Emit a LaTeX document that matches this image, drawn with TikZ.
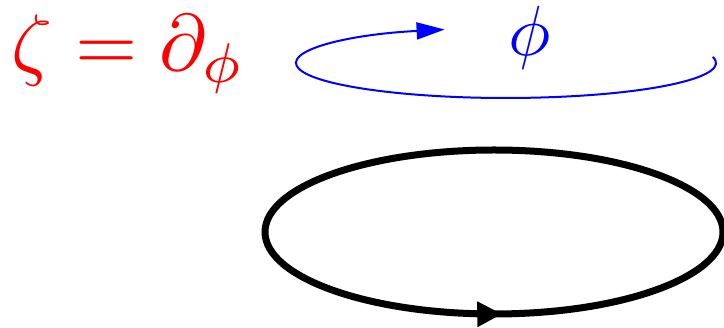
\documentclass[tikz,border=0pt]{standalone}
\usetikzlibrary{arrows.meta,decorations.markings}
\tikzset{
  formula/.style={inner sep=0pt, outer sep=0pt},
  orbit/.style={line width=7pt, black},
  blueorbit/.style={line width=2pt, blue}
}
\begin{document}
\begin{tikzpicture}[x=1pt,y=1pt]
\useasboundingbox (0,0) rectangle (724,328);
% red formula
\node[formula, red, scale=8, anchor=base west] (zeta) at (12,257)
  {$\zeta=\partial_\phi$};
% blue phi
\node[formula, blue, scale=7.1, anchor=base west] (phi) at (508,272) {$\phi$};
% blue open orbit with arrow
\draw[blueorbit, -{Triangle[length=28pt,width=17pt]}]
  (506,265) ++(10:210 and 35)
  arc[start angle=10, end angle=-253, x radius=210, y radius=35];
% black closed orbit with arrow at bottom
\draw[orbit, postaction={decorate},
  decoration={markings, mark=at position 0.758 with {\arrow{Triangle[length=25pt,width=24pt]}}}]
  (494,96) ellipse [x radius=229, y radius=82];
\end{tikzpicture}
\end{document}
